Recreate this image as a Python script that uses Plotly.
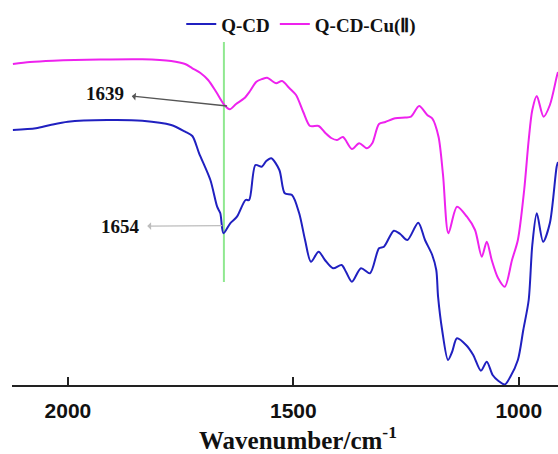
import plotly.graph_objects as go

# ---- data (wavenumber in cm-1, transmittance in a.u.) ----
wn_cu = [2122, 2084, 2033, 1928, 1835, 1771, 1740, 1724, 1706, 1689, 1671, 1653, 1641,
         1627, 1609, 1596, 1582, 1569, 1558, 1547, 1538, 1525, 1509, 1494, 1478, 1463,
         1444, 1429, 1416, 1403, 1390, 1370, 1354, 1337, 1325, 1310, 1296, 1274, 1252,
         1239, 1221, 1203, 1192, 1178, 1168, 1156, 1137, 1115, 1097, 1082, 1071, 1060,
         1046, 1031, 1015, 1002, 988, 978, 970, 960, 945, 931, 916, 913]
t_cu = [321, 323, 324.3, 325.5, 325.7, 324, 321, 316.7, 312, 305, 293, 280, 275.7,
        281, 286.7, 294, 303.3, 306, 307.3, 304, 301.7, 304, 297, 290, 273, 259,
        259, 252, 247, 245, 248, 236, 241.7, 236.7, 241.7, 261, 263, 266.7, 267.5,
        268.3, 279, 270, 266.7, 248.3, 210, 151.7, 178.3, 168.3, 155, 128.3, 143.3, 125,
        107, 98.3, 125, 145, 195, 245, 275, 289, 268.3, 280, 308, 313]

wn_cd = [2122, 2071, 2039, 2000, 1913, 1835, 1771, 1740, 1724, 1709, 1684, 1669, 1662,
         1655, 1640, 1625, 1606, 1598, 1584, 1570, 1560, 1549, 1531, 1519, 1503, 1487,
         1474, 1461, 1444, 1430, 1412, 1393, 1383, 1370, 1350, 1330, 1310, 1299, 1277,
         1263, 1247, 1223, 1208, 1192, 1183, 1179, 1170, 1157, 1148, 1137, 1117, 1101,
         1084, 1071, 1058, 1045, 1031, 1019, 1002, 990, 978, 970, 960, 946, 931, 916, 913]
t_cd = [255, 256.7, 260, 263.3, 265, 264.3, 260, 253.3, 249, 231.7, 205, 178.3, 171.7,
        151.7, 161.7, 168.3, 185, 185, 220, 218.3, 224, 226.7, 215, 191.7, 190, 171.7,
        145, 123.3, 133.3, 125, 116.7, 120, 113, 103.3, 116.7, 111.7, 136.7, 138.3, 154.3,
        151, 145, 162.3, 145, 130, 115, 88.3, 55, 25, 33, 46.7, 40, 30,
        14.3, 23.3, 10, 4, 0.5, 8, 25, 55, 85, 140, 171.7, 143.3, 162, 218.3, 223]

series_names = ["Q-CD", "Q-CD-Cu(Ⅱ)"]
tick_values = [2000, 1500, 1000]
tick_labels = ["2000", "1500", "1000"]

marker_wn = 1654
marker_span = [103, 343]

peak_labels = ["1639", "1654"]
peak_points = [(1647, 279), (1658, 159.3)]
peak_text_pos = [(1917, 291.6), (1884, 158.8)]

x_range = [2124, 913]
y_range = [0, 385]

BLUE = "#2020c0"
MAGENTA = "#ee22ee"
SERIF = "Liberation Serif, Times New Roman, serif"

fig = go.Figure()
fig.add_trace(go.Scatter(x=wn_cd, y=t_cd, mode="lines", name=series_names[0],
                         line=dict(color=BLUE, width=2, shape="spline", smoothing=0.8)))
fig.add_trace(go.Scatter(x=wn_cu, y=t_cu, mode="lines", name=series_names[1],
                         line=dict(color=MAGENTA, width=2, shape="spline", smoothing=0.8)))

fig.add_shape(type="line", xref="x", yref="y", x0=marker_wn, x1=marker_wn,
              y0=marker_span[0], y1=marker_span[1],
              line=dict(color="#90e890", width=2), layer="below")

arrow_colors = ["#555555", "#bdbdbd"]
for lab, (px, py), (tx, ty), col in zip(peak_labels, peak_points, peak_text_pos, arrow_colors):
    fig.add_annotation(x=px, y=py, ax=tx, ay=ty, xref="x", yref="y", axref="x", ayref="y",
                       text="<b>%s</b>" % lab, showarrow=True, arrowside="start",
                       arrowhead=2, arrowsize=1, arrowwidth=1.3, arrowcolor=col,
                       startstandoff=6, standoff=0,
                       font=dict(family=SERIF, size=19, color="#111111"))

fig.add_annotation(xref="paper", yref="paper", x=0.524, y=-0.138, yanchor="middle",
                   text="<b>Wavenumber/cm<sup>-1</sup></b>", showarrow=False,
                   font=dict(family=SERIF, size=25, color="#111111"))

fig.update_layout(
    width=558, height=454,
    margin=dict(l=12, r=0, t=0, b=69),
    plot_bgcolor="white", paper_bgcolor="white",
    showlegend=True,
    legend=dict(orientation="h", x=0.31, y=0.937, xanchor="left", yanchor="middle",
                font=dict(family=SERIF, size=19, color="#111111", weight="bold"),
                bgcolor="rgba(0,0,0,0)", itemwidth=30, tracegroupgap=0),
    xaxis=dict(range=x_range, tickvals=tick_values, ticktext=tick_labels,
               showgrid=False, zeroline=False, showline=True, linecolor="#222222",
               linewidth=2, ticks="inside", ticklen=8, tickwidth=2, tickcolor="#222222",
               tickfont=dict(family="Liberation Sans, Arial, sans-serif", size=21,
                             color="#111111", weight="bold"),
               ticklabelstandoff=6),
    yaxis=dict(range=y_range, visible=False),
)

fig.write_html("out.html")
